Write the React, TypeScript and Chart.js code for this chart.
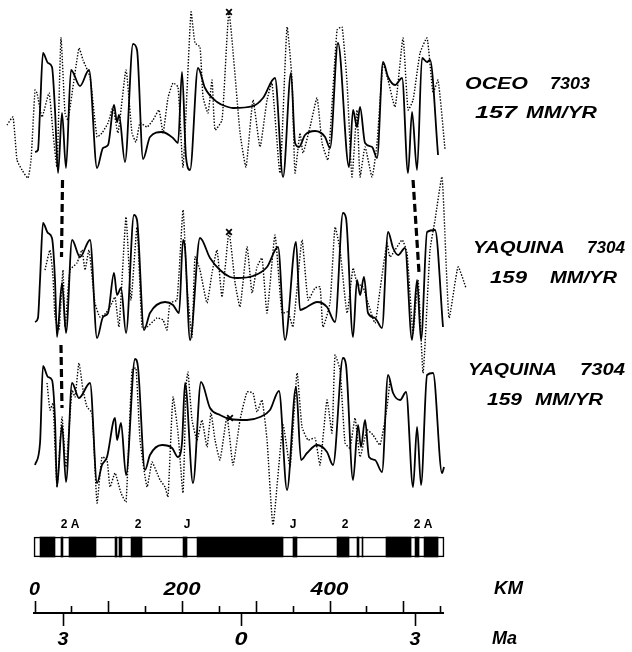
import React, { useEffect, useRef } from 'react';
import { Chart, registerables } from 'chart.js';

Chart.register(...registerables);

// ---------- DATA (distance along profile in km, anomaly amplitude in arbitrary units) ----------
const OCEO_MODEL_KM = [0.7, 4.7, 7.5, 11.5, 18.3, 23.7, 27.8, 31.9, 37.3, 42.7, 49.5, 61.7, 73.9, 84.8, 92.9, 99.7, 107.8, 111.9, 114.6, 122.7, 133.6, 139.0, 147.2, 156.6, 172.9, 187.8, 194.6, 200.0, 205.4, 210.9, 221.7, 231.2, 247.5, 262.4, 269.2, 296.3, 309.8, 326.1, 337.0, 347.8, 353.3, 358.7, 366.8, 380.4, 394.0, 400.7, 411.5, 426.5, 431.9, 437.3, 441.4, 448.2, 457.7, 464.5, 472.6, 479.4, 488.9, 498.4, 506.5, 511.9, 518.7, 525.5, 532.3, 536.3, 547.2];
const OCEO_MODEL_AMP = [-12, -10, 30, 87, 77, 73, 30, -33, 27, -28, 70, 54, 70, -28, -8, -5, 35, 18, 25, -22, 96, 90, -19, 3, 8, 2, -3, 68, -17, -30, 72, 52, 38, 33, 32, 34, 42, 62, -37, 67, -3, -7, 5, 9, 3, -8, 97, -27, 30, 13, 33, -3, -7, -18, 78, 63, 55, 62, -33, 28, -30, 82, 78, 80, -15];

const OCEO_OBS_KM = [-37.3, -29.2, -23.7, -17.0, -8.8, -4.7, 0.7, 3.4, 10.2, 19.7, 25.1, 30.5, 35.9, 41.4, 45.4, 60.3, 65.8, 75.3, 84.8, 91.5, 99.7, 106.4, 113.2, 124.1, 132.2, 137.6, 143.1, 152.6, 160.7, 168.8, 174.3, 181.0, 187.8, 194.6, 201.4, 212.2, 217.6, 224.4, 228.5, 235.3, 240.7, 244.8, 254.3, 263.7, 278.7, 286.8, 296.3, 305.8, 315.3, 322.0, 332.9, 342.4, 349.2, 353.2, 360.0, 364.1, 373.6, 383.1, 389.9, 398.0, 410.2, 417.0, 423.8, 430.5, 437.3, 441.4, 448.2, 457.7, 464.5, 472.6, 479.4, 488.9, 499.7, 506.5, 513.3, 522.8, 532.3, 540.4, 547.2, 556.7];
const OCEO_OBS_AMP = [15, 23, -20, -30, -38, -20, 50, 47, 23, 47, 7, -27, 102, 27, 20, 92, 80, 63, 3, 7, 17, 33, 7, 70, 7, -2, 17, 13, 20, 30, 7, 42, 57, 53, -27, 128, 97, 93, 43, 27, 60, 10, 20, 127, 7, -27, 40, -7, 40, 57, -33, 113, 60, -33, 7, -13, 13, 42, -3, -20, 110, 113, 57, -37, 30, -37, -7, -37, -3, 77, 60, 33, 102, 30, 40, 87, 102, 47, 60, -10];

const YAQ_A_MODEL_KM = [0.7, 4.7, 7.5, 11.5, 18.3, 23.7, 27.8, 30.5, 37.3, 42.7, 50.9, 61.7, 75.3, 84.8, 92.9, 99.7, 107.8, 111.9, 117.3, 124.1, 134.9, 139.0, 148.5, 156.6, 177.0, 187.8, 196.0, 201.4, 204.1, 210.9, 224.4, 238.0, 251.5, 265.1, 274.6, 296.3, 315.3, 330.2, 339.7, 354.6, 360.0, 369.5, 383.1, 396.6, 407.5, 418.3, 422.4, 431.9, 437.3, 441.4, 446.8, 452.2, 461.7, 471.2, 479.4, 486.2, 493.0, 502.4, 511.9, 518.7, 524.1, 532.3, 543.1, 553.9];
const YAQ_A_MODEL_AMP = [-22, -18, 20, 77, 67, 62, 20, -37, 17, -33, 60, 43, 60, -38, -17, -13, 27, 5, 12, -33, 85, 80, -30, -13, -2, -5, -13, 60, 52, -40, 62, 42, 30, 23, 22, 24, 33, 53, -40, 58, -10, -7, -2, -7, -22, 87, 82, -37, 20, 5, 23, -13, -18, -28, 68, 52, 45, 52, -40, 20, -40, 68, 70, -27];

const YAQ_A_OBS_KM = [14.2, 21.0, 25.1, 27.8, 33.2, 38.6, 41.4, 48.1, 57.6, 64.4, 68.5, 73.9, 82.0, 88.8, 97.0, 105.1, 109.2, 114.6, 124.1, 130.9, 139.0, 145.8, 152.6, 166.1, 174.3, 179.7, 183.7, 193.2, 201.4, 206.8, 213.6, 217.6, 224.4, 233.9, 240.7, 247.5, 254.3, 263.7, 272.0, 278.7, 288.2, 295.0, 301.7, 308.5, 315.3, 326.1, 335.6, 343.7, 350.5, 362.7, 370.9, 380.4, 387.1, 391.2, 400.7, 407.5, 414.3, 423.8, 431.9, 437.3, 445.4, 452.2, 461.7, 468.5, 478.0, 482.1, 498.4, 505.1, 513.3, 520.1, 526.9, 536.3, 543.1, 552.6, 562.1, 574.3, 585.1];
const YAQ_A_OBS_AMP = [30, 50, 23, -17, -30, 30, -27, 30, 37, 50, 30, 50, -3, -17, -13, -3, 3, -27, 83, 0, 73, -27, -27, -18, -20, -30, -3, 0, 90, 13, -37, 43, 30, -3, 27, 50, 3, 68, 17, -7, 53, 7, 33, 42, -13, 65, -13, -12, -27, 60, 0, 12, 13, -27, -3, 73, 50, -13, 32, 17, 13, -3, -23, 10, 57, 43, 60, 47, -33, 20, -73, 50, 80, 123, -18, 33, 12];

const YAQ_B_MODEL_KM = [0.7, 7.5, 11.5, 18.3, 23.7, 27.8, 30.5, 37.3, 42.7, 50.9, 60.3, 75.3, 84.8, 91.5, 98.3, 109.2, 111.9, 117.3, 124.1, 136.3, 140.3, 149.8, 156.6, 172.9, 186.5, 194.6, 200.0, 204.1, 214.9, 225.8, 238.0, 251.5, 265.1, 288.2, 305.8, 319.3, 331.5, 342.4, 354.6, 361.4, 369.5, 383.1, 396.6, 404.8, 418.3, 422.4, 431.9, 438.7, 442.7, 448.2, 453.6, 461.7, 471.2, 479.4, 486.2, 495.7, 503.8, 513.3, 518.7, 524.1, 532.3, 540.4, 552.6, 555.3];
const YAQ_B_MODEL_AMP = [-20, 2, 79, 68, 65, 25, -42, 20, -37, 62, 47, 62, -38, -20, -12, 27, 5, 22, -30, 86, 78, -25, -10, 0, -3, -12, 2, 62, -38, 63, 37, 30, 26, 25, 28, 35, 54, -45, 58, -15, -8, 0, -7, -20, 87, 80, -35, 20, -2, 25, -12, -15, -27, 70, 52, 45, 53, -42, 18, -40, 70, 72, -28, -22];

const YAQ_B_OBS_KM = [17.0, 21.0, 25.1, 30.5, 37.3, 42.7, 50.9, 54.9, 60.3, 65.8, 71.2, 78.0, 84.8, 91.5, 98.3, 102.4, 109.2, 117.3, 124.1, 132.2, 137.6, 143.1, 152.6, 159.3, 166.1, 170.2, 177.0, 181.0, 187.8, 194.6, 201.4, 205.4, 208.1, 213.6, 220.4, 227.1, 233.9, 239.3, 244.8, 251.5, 261.0, 269.2, 278.7, 288.2, 296.3, 301.7, 308.5, 315.3, 323.4, 337.0, 346.5, 356.0, 362.7, 370.9, 380.4, 387.1, 396.6, 403.4, 407.5, 414.3, 421.1, 427.8, 434.6, 441.4, 450.9, 459.0, 468.5, 478.0, 482.1];
const YAQ_B_OBS_AMP = [62, 35, 42, -42, 28, -22, 55, 48, 82, 55, 38, 32, -58, -12, -15, -42, -28, -48, -57, 75, 77, 5, -42, -17, -28, -35, -42, -52, 48, 12, -48, 58, 73, 25, 5, 25, -2, 32, 5, -15, 28, -20, 25, 53, 52, 33, 45, 5, -80, 20, -22, 72, 18, 5, 7, -20, 45, 12, 90, 75, 2, -3, 27, -12, 15, 10, 0, 38, 65];

// x markers: [km, amplitude] for each track
const MARKERS = [[263.7, 128], [263.7, 68], [265.1, 27]];
// correlation ties: [km, track, amplitude] from / to
const TIES = [
  [[38.0, 0, -40], [36.6, 1, 43]],
  [[513.3, 0, -40], [521.4, 1, 27]],
  [[35.9, 1, -45], [37.3, 2, 37]],
];

// magnetic polarity: full extent and normal (black) blocks, in km
const POLARITY_EXTENT = [-0.7, 555.3];
const NORMAL_BLOCKS_KM = [[7.5, 27.8], [35.9, 38.6], [46.8, 83.4], [109.2, 111.9], [114.6, 118.6], [130.9, 145.8], [201.4, 206.8], [220.4, 337.0], [350.5, 355.9], [410.2, 426.5], [437.3, 440.0], [444.1, 445.4], [476.6, 510.6], [516.0, 521.4], [528.2, 547.2]];
const ANOMALY_NAMES = ['2 A', '2', 'J', 'J', '2', '2 A'];
const ANOMALY_KM = [48.1, 140.3, 206.8, 350.5, 421.1, 526.8];

const KM_TICKS = [0, 50, 100, 150, 200, 250, 300, 350, 400, 450, 500, 550];
const KM_LABELS = [0, 200, 400];
const MA_TICK_KM = [38.6, 280, 516];
const MA_LABELS = ['3', '0', '3'];

const PROFILE_NAMES = ['OCEO 7303', 'YAQUINA 7304', 'YAQUINA 7304'];
const PROFILE_RATES = ['157 MM/YR', '159 MM/YR', '159 MM/YR'];

// ---------- LAYOUT ----------
const W = 632;
const H = 652;
const PX_PER_KM = 0.7375;
const KM0_PX = 34.5;
const X_MIN = -KM0_PX / PX_PER_KM;
const X_MAX = X_MIN + W / PX_PER_KM;
const TRACK_BASE = [512, 352, 207];
const POLARITY_LEVEL = 105;
const ANOMALY_LABEL_LEVEL = 127;
const AXIS_LEVEL = 39;
const KM_AXIS_RANGE = [-2, 555.3];
const INK = '#000';
const FONT = '"Liberation Sans", Arial, sans-serif';

// word extents (pixels) of the side labels: [x0, x1] per word, centre y
const NAME_LAYOUT = [
  { y: 85, words: [[465, 528], [550, 590]] },
  { y: 248.5, words: [[473, 565], [587, 625]] },
  { y: 371, words: [[468, 557], [580, 625]] },
];
const RATE_LAYOUT = [
  { y: 114, words: [[475, 517], [526, 597]] },
  { y: 279, words: [[490, 527], [550, 617]] },
  { y: 401, words: [[487, 522], [535, 603]] },
];
const KM_LABEL_W = [11, 37, 38];
const MA_LABEL_W = [11, 13, 11];

function zip(km: number[], amp: number[], base: number) {
  const n = Math.min(km.length, amp.length);
  const out: { x: number; y: number }[] = [];
  for (let i = 0; i < n; i++) out.push({ x: km[i], y: base + amp[i] });
  return out;
}

function fitText(ctx: CanvasRenderingContext2D, text: string, x0: number, x1: number, cy: number, font: string) {
  ctx.font = font;
  const w = ctx.measureText(text).width || 1;
  ctx.save();
  ctx.translate(x0, cy);
  ctx.scale((x1 - x0) / w, 1);
  ctx.textAlign = 'left';
  ctx.textBaseline = 'middle';
  ctx.fillText(text, 0, 0);
  ctx.restore();
}

function fitCentered(ctx: CanvasRenderingContext2D, text: string, cx: number, width: number, cy: number, font: string) {
  fitText(ctx, text, cx - width / 2, cx + width / 2, cy, font);
}

const overlayPlugin = {
  id: 'overlay',
  afterDraw(chart: any) {
    const { ctx, scales } = chart;
    const xs = scales.x;
    const ys = scales.y;
    const px = (km: number) => xs.getPixelForValue(km);
    const axisY = ys.getPixelForValue(AXIS_LEVEL);
    ctx.save();
    ctx.strokeStyle = INK;
    ctx.fillStyle = INK;
    ctx.setLineDash([]);

    // km axis line
    ctx.lineWidth = 1.8;
    ctx.beginPath();
    ctx.moveTo(px(KM_AXIS_RANGE[0]), axisY);
    ctx.lineTo(px(KM_AXIS_RANGE[1]), axisY);
    ctx.stroke();
    ctx.lineWidth = 1.6;
    KM_TICKS.forEach((k) => {
      const len = k % 100 === 0 ? 12 : 7;
      const xp = Math.round(px(k)) + 0.5;
      ctx.beginPath();
      ctx.moveTo(xp, axisY);
      ctx.lineTo(xp, axisY - len);
      ctx.stroke();
    });
    MA_TICK_KM.forEach((k) => {
      const xp = Math.round(px(k)) + 0.5;
      ctx.beginPath();
      ctx.moveTo(xp, axisY);
      ctx.lineTo(xp, axisY + 13);
      ctx.stroke();
    });

    const axisFont = `italic bold 18px ${FONT}`;
    KM_LABELS.forEach((k, i) => fitCentered(ctx, String(k), px(k), KM_LABEL_W[i], axisY - 23, axisFont));
    MA_LABELS.forEach((t, i) => fitCentered(ctx, t, px(MA_TICK_KM[i]), MA_LABEL_W[i], axisY + 27, axisFont));
    fitText(ctx, 'KM', 494, 523, axisY - 24, axisFont);
    fitText(ctx, 'Ma', 492, 517, axisY + 26, axisFont);

    // anomaly names above polarity bar
    const anomY = ys.getPixelForValue(ANOMALY_LABEL_LEVEL);
    ctx.font = `bold 12px ${FONT}`;
    ctx.textAlign = 'center';
    ctx.textBaseline = 'middle';
    ANOMALY_NAMES.forEach((t, i) => ctx.fillText(t, px(ANOMALY_KM[i]), anomY));

    // profile names and rates
    const sideFont = `italic bold 16px ${FONT}`;
    PROFILE_NAMES.forEach((name, i) => {
      const words = name.split(' ');
      words.forEach((w, j) => fitText(ctx, w, NAME_LAYOUT[i].words[j][0], NAME_LAYOUT[i].words[j][1], NAME_LAYOUT[i].y, sideFont));
    });
    PROFILE_RATES.forEach((rate, i) => {
      const words = rate.split(' ');
      words.forEach((w, j) => fitText(ctx, w, RATE_LAYOUT[i].words[j][0], RATE_LAYOUT[i].words[j][1], RATE_LAYOUT[i].y, sideFont));
    });
    ctx.restore();
  },
};

export default function App() {
  const ref = useRef<HTMLCanvasElement | null>(null);
  useEffect(() => {
    if (!ref.current) return;
    const solid = (data: any[]) => ({
      type: 'line',
      data,
      borderColor: '#000',
      borderWidth: 1.8,
      pointRadius: 0,
      fill: false,
      cubicInterpolationMode: 'monotone',
    });
    const dotted = (data: any[]) => ({
      type: 'line',
      data,
      borderColor: '#000',
      borderWidth: 1.4,
      borderDash: [1.4, 1.6],
      pointRadius: 0,
      fill: false,
      tension: 0.15,
    });
    const tie = (t: number[][]) => ({
      type: 'line',
      data: t.map(([km, tr, a]) => ({ x: km, y: TRACK_BASE[tr] + a })),
      borderColor: '#000',
      borderWidth: 3.2,
      borderDash: [8, 4],
      pointRadius: 0,
      fill: false,
    });
    const blocks = [POLARITY_EXTENT, ...NORMAL_BLOCKS_KM];
    const datasets: any[] = [
      solid(zip(OCEO_MODEL_KM, OCEO_MODEL_AMP, TRACK_BASE[0])),
      dotted(zip(OCEO_OBS_KM, OCEO_OBS_AMP, TRACK_BASE[0])),
      solid(zip(YAQ_A_MODEL_KM, YAQ_A_MODEL_AMP, TRACK_BASE[1])),
      dotted(zip(YAQ_A_OBS_KM, YAQ_A_OBS_AMP, TRACK_BASE[1])),
      solid(zip(YAQ_B_MODEL_KM, YAQ_B_MODEL_AMP, TRACK_BASE[2])),
      dotted(zip(YAQ_B_OBS_KM, YAQ_B_OBS_AMP, TRACK_BASE[2])),
      ...TIES.map(tie),
      {
        type: 'line',
        data: MARKERS.map(([km, a], i) => ({ x: km, y: TRACK_BASE[i] + a })),
        showLine: false,
        pointStyle: 'crossRot',
        pointRadius: 4,
        pointBorderWidth: 1.8,
        pointBorderColor: '#000',
        pointBackgroundColor: '#000',
      },
      {
        type: 'bar',
        indexAxis: 'y',
        data: blocks.map((b) => ({ x: b, y: POLARITY_LEVEL })),
        backgroundColor: blocks.map((_, i) => (i === 0 ? '#fff' : '#000')),
        borderColor: '#000',
        borderWidth: blocks.map((_, i) => (i === 0 ? 1.6 : 0)),
        borderSkipped: false,
        barThickness: 20,
        grouped: true,
      },
    ];
    const chart = new Chart(ref.current, {
      type: 'line',
      data: { datasets },
      options: {
        responsive: false,
        animation: false,
        devicePixelRatio: 1,
        events: [],
        layout: { padding: 0, autoPadding: false },
        plugins: { legend: { display: false }, tooltip: { enabled: false }, title: { display: false } },
        scales: {
          x: { type: 'linear', display: false, min: X_MIN, max: X_MAX, offset: false },
          y: { type: 'linear', display: false, min: 0, max: H, offset: false },
        },
      },
      plugins: [overlayPlugin],
    } as any);
    return () => chart.destroy();
  }, []);
  return (
    <div style={{ position: 'fixed', left: 0, top: 0, width: W, height: H, background: '#fff' }}>
      <canvas ref={ref} width={W} height={H} style={{ display: 'block' }} />
    </div>
  );
}
